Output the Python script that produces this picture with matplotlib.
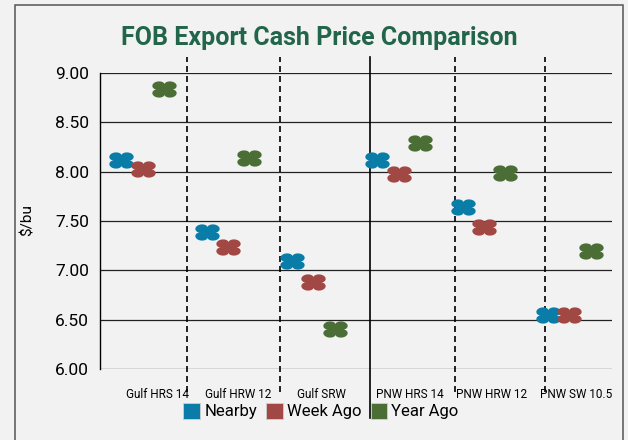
import numpy as np
import matplotlib
matplotlib.use("Agg")
import matplotlib.pyplot as plt
from matplotlib.path import Path
from matplotlib.patches import Patch, Rectangle

# data
categories = ["Gulf HRS 14", "Gulf HRW 12", "Gulf SRW", "PNW HRS 14", "PNW HRW 12", "PNW SW 10.5"]
nearby = [8.12, 7.39, 7.09, 8.12, 7.645, 6.55]
week_ago = [8.03, 7.24, 6.885, 7.98, 7.44, 6.55]
year_ago = [8.84, 8.14, 6.41, 8.29, 7.99, 7.20]
series_names = ["Nearby", "Week Ago", "Year Ago"]
series_colors = ["#097CA8", "#A14744", "#4A6E36"]
y_ticks = [6.0, 6.5, 7.0, 7.5, 8.0, 8.5, 9.0]
# separator lines (dashed, one solid between Gulf and PNW)
divider_x = [0.516, 1.61, 3.657, 4.719]
solid_x = 2.661
label_shift = [0.17, 0.12, 0.10, 0.13, 0.09, 0.08]

plt.rcParams["font.family"] = ["Roboto", "DejaVu Sans"]

# marker: four rounded petals on the diagonals, stretched sideways
theta = np.linspace(0, 2 * np.pi, 361)
r = 0.55 + 0.45 * np.abs(np.sin(2 * theta)) ** 0.6
verts = np.column_stack([1.5 * r * np.cos(theta), r * np.sin(theta)])
petal = Path(verts, closed=True)

fig = plt.figure(figsize=(6.28, 4.40), dpi=100)
fig.patch.set_facecolor("#F2F2F2")
fig.patches.append(Rectangle((14.7 / 628, -0.05), (623 - 14.7) / 628, 1.05 - 5 / 440,
                             transform=fig.transFigure, fill=False,
                             edgecolor="#555555", linewidth=1.1))

ax = fig.add_axes([100 / 628, (440 - 369) / 440, 512 / 628, 296 / 440])
ax.set_facecolor("#F2F2F2")

x = np.arange(len(categories))
offsets = [-0.25, 0.0, 0.25]
for vals, off, col in zip([nearby, week_ago, year_ago], offsets, series_colors):
    ax.plot(x + off, vals, linestyle="none", marker=petal, markersize=17.5,
            markerfacecolor=col, markeredgewidth=0, zorder=4)

for xv in divider_x:
    ax.axvline(xv, ymin=-0.078, ymax=1.055, color="black", linewidth=1.2,
               linestyle=(0, (3.6, 2.4)), clip_on=False, zorder=3)
ax.axvline(solid_x, ymin=-0.165, ymax=1.055, color="black", linewidth=1.2,
           clip_on=False, zorder=3)

ax.set_xlim(-0.5, 5.5)
ax.set_ylim(6.0, 9.0)
ax.set_yticks(y_ticks)
ax.set_yticklabels([f"{v:.2f}" for v in y_ticks], fontsize=12.5)
ax.grid(axis="y", color="#222222", linewidth=0.9)
ax.set_axisbelow(True)
ax.set_xticks(x + np.array(label_shift))
ax.set_xticklabels(categories, fontsize=8.5)
ax.tick_params(axis="both", length=0)
ax.tick_params(axis="y", pad=8)
ax.tick_params(axis="x", pad=14)
for s in ["top", "right", "bottom"]:
    ax.spines[s].set_visible(False)
ax.spines["left"].set_color("black")
ax.spines["left"].set_linewidth(1.0)

ax.set_ylabel("$/bu", fontsize=11)
ax.yaxis.set_label_coords(-0.127, 0.503)

fig.text(319 / 628, 1 - 45 / 440, "FOB Export Cash Price Comparison",
         ha="center", va="baseline", fontsize=18, fontweight="bold", color="#22654A")

handles = [Patch(facecolor=c, edgecolor="#CFCFCF", linewidth=0.6) for c in series_colors]
fig.legend(handles, series_names, loc="center", bbox_to_anchor=(321 / 628, 1 - 411 / 440),
           ncol=3, frameon=False, fontsize=12, handlelength=1.0, handleheight=1.1,
           handletextpad=0.25, columnspacing=0.55, borderpad=0)

fig.savefig("out.png", dpi=100, facecolor=fig.get_facecolor())
